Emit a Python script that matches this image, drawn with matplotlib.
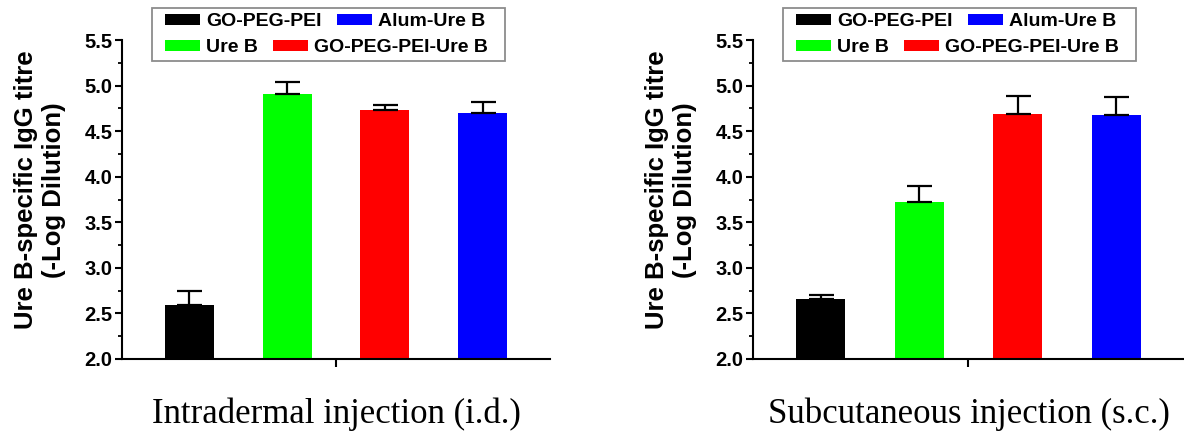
import numpy as np
import matplotlib
matplotlib.use("Agg")
import matplotlib.pyplot as plt
from matplotlib.patches import Patch, Rectangle

# groups, in bar order
groups = ["GO-PEG-PEI", "Ure B", "GO-PEG-PEI-Ure B", "Alum-Ure B"]
colors = ["#000000", "#00ff00", "#ff0000", "#0000ff"]

# intradermal (i.d.)
id_mean = [2.59, 4.91, 4.73, 4.70]
id_err = [0.16, 0.13, 0.06, 0.12]

# subcutaneous (s.c.)
sc_mean = [2.66, 3.72, 4.69, 4.68]
sc_err = [0.04, 0.18, 0.20, 0.20]

titles = ["Intradermal injection (i.d.)", "Subcutaneous injection (s.c.)"]
ylab = "Ure B-specific IgG titre\n(-Log Dilution)"

# legend rows as in the picture (flowed, not in columns)
leg_rows = [[0, 3], [1, 2]]

plt.rcParams['font.family'] = ['Liberation Sans', 'DejaVu Sans']

W, H = 1184, 437
fig = plt.figure(figsize=(W / 100, H / 100), dpi=100)

def px(x, y):
    # pixel (from top-left) -> figure fraction
    return x / W, 1 - y / H

def panel(x0, x1, mean, err, title):
    ax = fig.add_axes([x0 / W, 1 - 359 / H, (x1 - x0) / W, 319 / H])
    x = np.arange(1, len(mean) + 1)
    ax.bar(x, mean, width=0.5, color=colors, edgecolor='none', zorder=2)
    ax.errorbar(x, mean, yerr=[np.zeros(len(err)), err], fmt='none',
                ecolor='black', elinewidth=1.6, capsize=9, capthick=1.6, zorder=3)
    ax.set_xlim(0.31, 4.69)
    ax.set_ylim(2.0, 5.5)
    major = np.arange(2.0, 5.51, 0.5)
    ax.set_yticks(major)
    ax.set_yticks(np.arange(2.25, 5.5, 0.5), minor=True)
    ax.set_yticklabels(["%.1f" % v for v in major], fontsize=14.5, fontweight='bold')
    ax.set_xticks([2.5])
    ax.set_xticklabels([])
    ax.tick_params(axis='y', which='major', direction='out', length=5, width=1.5, pad=2)
    ax.tick_params(axis='y', which='minor', direction='out', length=3, width=1.3)
    ax.tick_params(axis='x', which='major', direction='out', length=6, width=1.5)
    for s in ['top', 'right']:
        ax.spines[s].set_visible(False)
    for s in ['left', 'bottom']:
        ax.spines[s].set_linewidth(1.5)

    # y label
    cx, cy = px(x0 - 82, 190)
    fig.text(cx, cy, ylab, fontsize=18.5, fontweight='bold', rotation=90,
             ha='center', va='center', linespacing=1.2)

    # legend frame
    bx0, by0 = px(x0 + 30, 61)
    bx1, by1 = px(x0 + 383, 8)
    fig.patches.append(Rectangle((bx0, by0), bx1 - bx0, by1 - by0,
                                 transform=fig.transFigure, facecolor='white',
                                 edgecolor='#8c8c8c', linewidth=1.3, zorder=5))
    for r, row in enumerate(leg_rows):
        handles = [Patch(facecolor=colors[i], edgecolor='none') for i in row]
        labels = [groups[i] for i in row]
        lx, ly = px(x0 + 43, 22 + 26 * r)
        fig.legend(handles, labels, ncol=2, loc='center left',
                   bbox_to_anchor=(lx, ly), bbox_transform=fig.transFigure,
                   prop={'weight': 'bold', 'size': 14},
                   handlelength=1.8, handleheight=0.55, handletextpad=0.3,
                   columnspacing=0.8, borderpad=0, borderaxespad=0,
                   frameon=False)

    tx, ty = px((x0 + x1) / 2, 423)
    fig.text(tx, ty, title, family='Liberation Serif', fontsize=25,
             ha='center', va='baseline')
    return ax

ax1 = panel(122, 550, id_mean, id_err, titles[0])
ax2 = panel(753, 1184, sc_mean, sc_err, titles[1])

fig.savefig("out.png", dpi=100)
